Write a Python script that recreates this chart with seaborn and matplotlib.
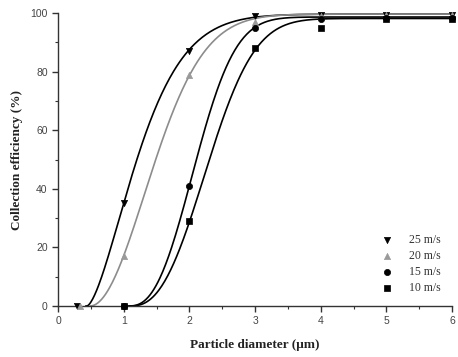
import numpy as np
import pandas as pd
import seaborn as sns
import matplotlib.pyplot as plt
from matplotlib.ticker import MultipleLocator

speeds = ["25 m/s", "20 m/s", "15 m/s", "10 m/s"]
x_25 = [0.28, 1, 2, 3, 4, 5, 6]
y_25 = [0, 35, 87, 99, 99.5, 99.5, 99.5]
x_20 = [0.33, 1, 2, 3, 4, 5, 6]
y_20 = [0, 17, 79, 97, 99, 99.5, 99.5]
x_15 = [1, 2, 3, 4, 5, 6]
y_15 = [0, 41, 95, 98, 98.5, 98.5]
x_10 = [1, 2, 3, 4, 5, 6]
y_10 = [0, 29, 88, 95, 98, 98]
# diameter where each fitted curve leaves zero
onset = [0.44, 0.49, 1.08, 1.10]

xs = [x_25, x_20, x_15, x_10]
ys = [y_25, y_20, y_15, y_10]
markers = ["v", "^", "o", "s"]
mcolors = ["black", "#9a9a9a", "black", "black"]
lcolors = ["black", "#8c8c8c", "black", "black"]


def weibull(x, A, x0, b, c):
    z = np.clip(x - x0, 0, None) / b
    return A * (1 - np.exp(-z ** c))


def fit(x, y, x0):
    # crude grid-search least squares for the fitted curve
    x = np.asarray(x, float)
    y = np.asarray(y, float)
    A = max(y) + 0.2
    b = np.linspace(0.2, 3.0, 141)[:, None, None]
    c = np.linspace(0.8, 4.0, 161)[None, :, None]
    pred = weibull(x[None, None, :], A, x0, b, c)
    err = ((pred - y[None, None, :]) ** 2).sum(axis=2)
    i, j = np.unravel_index(err.argmin(), err.shape)
    return A, x0, b[i, 0, 0], c[0, j, 0]


fig = plt.figure(figsize=(4.58, 3.57), dpi=100)
ax = fig.add_axes([0.127, 0.143, 0.86, 0.82])
sns.set_style("white")

xx = np.linspace(0, 6, 400)
for name, x, y, x0, m, mc, lc in zip(speeds, xs, ys, onset, markers, mcolors, lcolors):
    A, x0, b, c = fit(x, y, x0)
    curve = pd.DataFrame({"d": xx, "eff": weibull(xx, A, x0, b, c)})
    curve = curve[curve["d"] >= x0 - 0.02]
    sns.lineplot(data=curve, x="d", y="eff", color=lc, lw=1.2, ax=ax, legend=False)
    pts = pd.DataFrame({"d": x, "eff": y})
    sns.scatterplot(data=pts, x="d", y="eff", marker=m, color=mc, s=20,
                    edgecolor=mc, linewidth=0.5, ax=ax, label=name, clip_on=False, zorder=5)

ax.set_xlim(0, 6)
ax.set_ylim(0, 100)
ax.xaxis.set_major_locator(MultipleLocator(1))
ax.xaxis.set_minor_locator(MultipleLocator(0.5))
ax.yaxis.set_major_locator(MultipleLocator(20))
ax.yaxis.set_minor_locator(MultipleLocator(10))
for s in ["top", "right"]:
    ax.spines[s].set_visible(False)
for s in ["left", "bottom"]:
    ax.spines[s].set_color("#333333")
    ax.spines[s].set_linewidth(1.0)
ax.tick_params(which="major", direction="out", length=4, width=1, color="#333333",
               labelsize=7.5, labelcolor="#444444", left=True, bottom=True)
ax.tick_params(which="minor", direction="out", length=2.5, width=0.8, color="#333333",
               left=True, bottom=True)
for lab in ax.get_xticklabels() + ax.get_yticklabels():
    lab.set_family("Liberation Sans")

ax.set_xlabel("Particle diameter (μm)", family="Liberation Serif", fontsize=9.5,
              fontweight="bold", labelpad=9, color="#222222")
ax.set_ylabel("Collection efficiency (%)", family="Liberation Serif", fontsize=9.5,
              fontweight="bold", labelpad=5, color="#222222")

leg = ax.legend(loc="lower right", frameon=False, prop={"family": "Liberation Serif", "size": 8.5},
                handletextpad=0.8, labelspacing=0.35, borderaxespad=0.6)
for t in leg.get_texts():
    t.set_color("#333333")

fig.savefig("out.png", dpi=100)
